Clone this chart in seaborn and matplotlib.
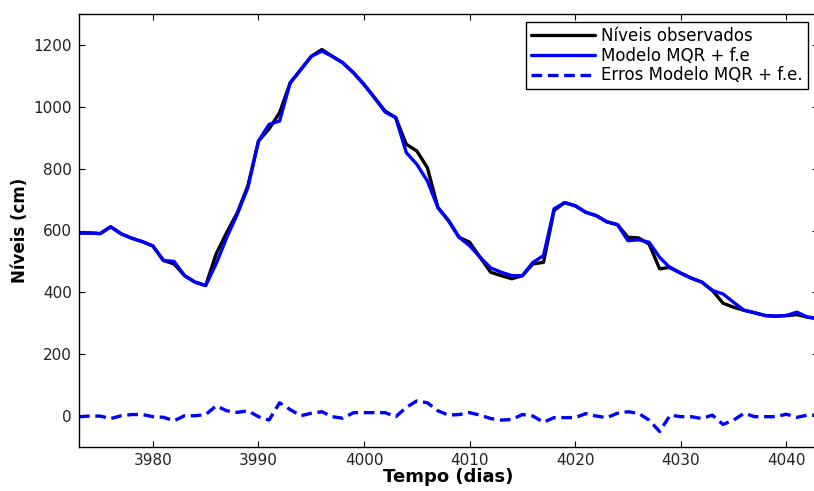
import numpy as np
import pandas as pd
import matplotlib
matplotlib.use("Agg")
import matplotlib.pyplot as plt
import seaborn as sns

days = list(range(3973, 4044))
observed = [592, 592, 590, 612, 589, 575, 564, 550, 503, 492, 454, 433, 422, 525, 594, 658, 745,
            889, 928, 981, 1077, 1120, 1163, 1185, 1163, 1142, 1110, 1072, 1029, 986, 965, 879,
            857, 803, 674, 632, 578, 562, 513, 465, 454, 444, 454, 492, 497, 665, 690, 680, 659,
            648, 628, 619, 578, 576, 556, 476, 481, 462, 446, 433, 406, 365, 352, 342, 334, 325,
            323, 325, 328, 320, 315]
model = [592, 592, 590, 612, 589, 575, 564, 550, 503, 500, 454, 433, 422, 493, 578, 653, 739,
         889, 943, 954, 1077, 1120, 1163, 1180, 1163, 1142, 1110, 1072, 1029, 983, 965, 852,
         814, 760, 674, 632, 578, 551, 513, 479, 465, 454, 454, 497, 519, 670, 690, 680, 659,
         648, 628, 619, 567, 570, 562, 513, 479, 462, 446, 433, 406, 395, 368, 342, 334, 325,
         323, 325, 336, 320, 315]
errors = [-2, 0, 0, -8, 1, 5, 5, -2, -4, -15, 1, 1, 5, 33, 17, 12, 17, -2, -13, 43, 21, 1, 9,
          14, -2, -7, 11, 11, 11, 11, -2, 28, 49, 43, 17, 3, 5, 11, 3, -8, -13, -11, 5, 0, -20,
          -5, -5, -5, 8, 0, -5, 9, 14, 9, -13, -50, 3, -2, -2, -8, 3, -27, -13, 9, -2, -2, -2,
          6, -4, 3, 3]

x_ticks = [3980, 3990, 4000, 4010, 4020, 4030, 4040]
y_ticks = [0, 200, 400, 600, 800, 1000, 1200]

df = pd.DataFrame({"dia": days, "obs": observed, "mod": model, "err": errors})

sns.set_style("ticks")
plt.rcParams["font.family"] = ["DejaVu Sans"]
plt.rcParams["text.color"] = "black"
plt.rcParams["axes.labelcolor"] = "black"

fig = plt.figure(figsize=(8.14, 4.91), dpi=100)
ax = fig.add_axes([79 / 814, 1 - 447 / 491, 739 / 814, 433 / 491])

lw = 2.4
sns.lineplot(data=df, x="dia", y="obs", ax=ax, color="black", linewidth=lw,
             label="Níveis observados")
sns.lineplot(data=df, x="dia", y="mod", ax=ax, color="#0000ff", linewidth=lw,
             label="Modelo MQR + f.e")
sns.lineplot(data=df, x="dia", y="err", ax=ax, color="#0000ff", linewidth=lw,
             linestyle=(0, (3.2, 1.7)), label="Erros Modelo MQR + f.e.")

ax.set_xlim(3973, 4043)
ax.set_ylim(-100, 1300)
ax.set_xticks(x_ticks)
ax.set_yticks(y_ticks)
ax.tick_params(direction="in", top=True, right=True, length=4, width=0.8, labelsize=11,
               colors="black", labelcolor="#222222", pad=5)
ax.tick_params(axis="x", pad=4)
for s in ax.spines.values():
    s.set_visible(True)
    s.set_linewidth(1)
    s.set_color("black")

ax.set_xlabel("Tempo (dias)", fontsize=13, fontweight="bold", labelpad=0)
ax.set_ylabel("Níveis (cm)", fontsize=12, fontweight="bold", labelpad=3)

leg = ax.legend(loc="upper right", bbox_to_anchor=(729 / 739, 1 - 8 / 433),
                frameon=True, fancybox=False, fontsize=12, handlelength=3.8,
                handletextpad=0.4, borderpad=0.3, labelspacing=0.1, borderaxespad=0)
leg.get_frame().set_edgecolor("black")
leg.get_frame().set_linewidth(1)
leg.get_frame().set_alpha(1)

fig.savefig("out.png", dpi=100)
